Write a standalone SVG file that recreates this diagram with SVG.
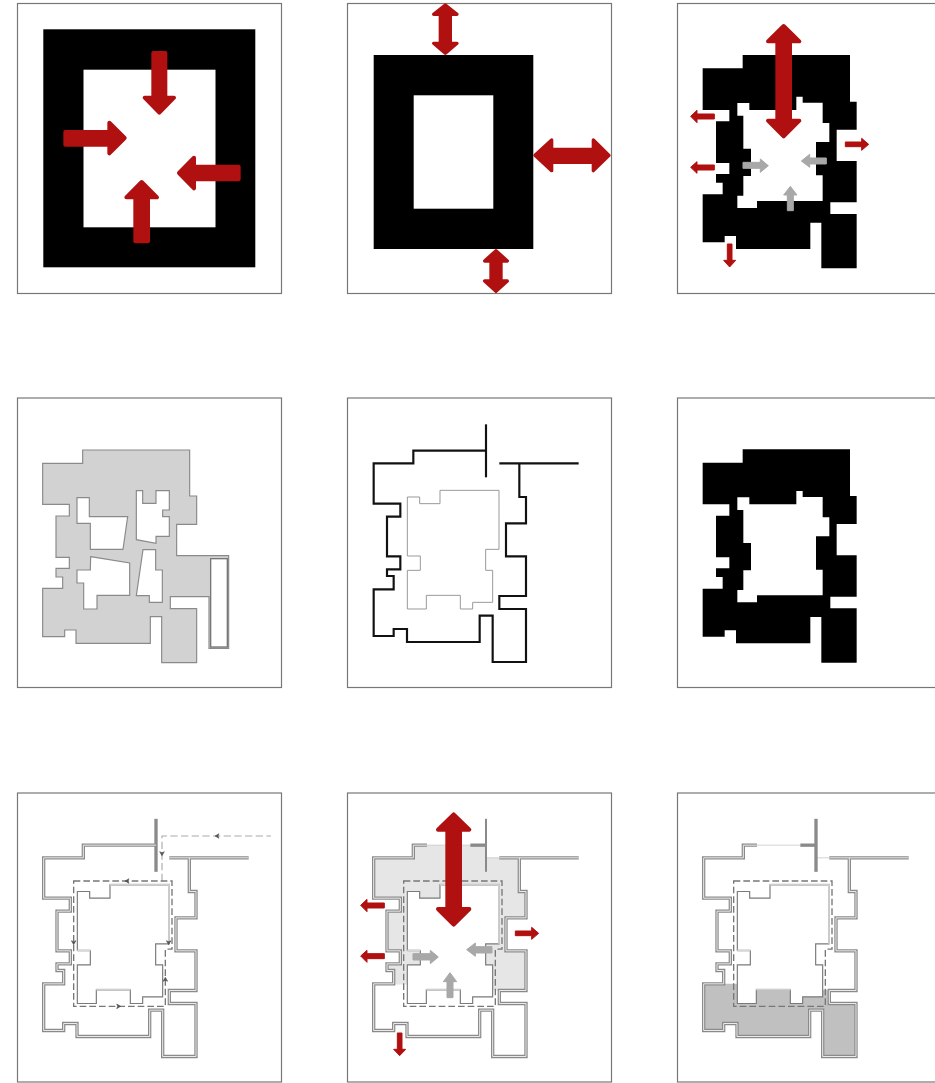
<svg xmlns="http://www.w3.org/2000/svg" width="935" height="1083" viewBox="0 0 935 1083">
<style>
.frame{fill:#fff;stroke:#777;stroke-width:1.2}
.red{fill:#b11010;stroke:#b11010;stroke-width:12;stroke-linejoin:round}
.red2{fill:#b11010;stroke:#b11010;stroke-width:10;stroke-linejoin:round}
.reds{fill:#b11010;stroke:#b11010;stroke-width:3;stroke-linejoin:round}
.gry{fill:#a8a8a8;stroke:#a8a8a8;stroke-width:3;stroke-linejoin:round}
.wo{fill:none;stroke:#8a8a8a;stroke-width:10;stroke-linejoin:miter}
.wi{fill:none;stroke:#ececec;stroke-width:3;stroke-linejoin:miter}
.in{fill:none;stroke:#7a7a7a;stroke-width:3.5}
.inl{fill:none;stroke:#bdbdbd;stroke-width:6}
.ini{fill:none;stroke:#f4f4f4;stroke-width:1.5}
.dash{fill:none;stroke:#777;stroke-width:4;stroke-dasharray:20 9}
.dash2{fill:none;stroke:#aaa;stroke-width:3.5;stroke-dasharray:22 10}
.thin{fill:none;stroke:#c8c8c8;stroke-width:2.5}
.chev{fill:#555;stroke:#444;stroke-width:1.5}
</style>
<defs>
<path id="mass" fill-rule="evenodd" d="M197,28H519V168H539V252H479V346H539V470H460V505H539V668H433V531H400V610H177V571H143V590H77V446H137V411H117V385H157V352H117V227H157V193H77V68H197ZM181,172H217V193H358V153H377V171H437V232H457V289H417V389H437V466H240V487H181V450H199V391H222V309H199V210H181Z"/>
<path id="outer" d="M417,122H199V160H80V281H160V320H120V439H160V478H120V498H140V538H80V678H140V657H180V696H398V617H437V756H537V597H457V558H537V439H477V340H537V261H517V160"/>
<path id="outerGap" d="M240,122H199V160H80V281H160V320H120V439H160V478H120V498H140V538H80V678H140V657H180V696H398V617H437V756H537V597H457V558H537V439H477V340H537V261H517V160"/>
<path id="stub" d="M417,43V202"/>
<path id="bar" d="M457,160H695"/>
<path id="inner" d="M181,261H218V281H279V241H456V418H416V481H437V577H377V597H340V556H238V597H181V481H220V438H181Z"/>
<path id="lightIn" d="M279,241H456V418M181,438H220M238,556H340"/>
<path id="dashLoop" d="M170,229.5H465V434H445V605.5H170Z"/>
<path id="c" d="M-6,-7L6,0L-6,7L-3,0Z"/>
</defs>

<g id="panel-1">
<rect class="frame" x="17.5" y="3.5" width="264" height="290"/>
<rect x="43.3" y="29.3" width="212" height="238"/>
<rect x="83.5" y="69.7" width="132" height="157.6" fill="#fff"/>
<g transform="translate(10,0) scale(.33333)">
<polygon class="red" points="430,159 466,159 466,293 492,293 448,338 404,293 430,293"/>
<polygon class="red" points="166,396 298,396 298,368 344,414 298,460 298,434 166,434"/>
<polygon class="red" points="686,500 552,500 552,473 507,519 552,565 552,538 686,538"/>
<polygon class="red" points="376,724 376,592 349,592 395,546 441,592 414,592 414,724"/>
</g>
</g>

<g id="panel-2">
<rect class="frame" x="347.5" y="3.5" width="264" height="290"/>
<rect x="373.7" y="55" width="159.6" height="194"/>
<rect x="413.7" y="95.3" width="79.6" height="113.4" fill="#fff"/>
<g transform="translate(340,0) scale(.33333)">
<polygon class="red2" points="316,15 351,43 331,43 331,130 351,130 316,160 281,130 301,130 301,43 281,43"/>
<polygon class="red2" points="468,752 502,783 483,783 483,843 502,843 468,874 434,843 453,843 453,783 434,783"/>
<polygon class="red2" points="585,466 635,420 635,448 760,448 760,420 807,466 760,512 760,487 635,487 635,512"/>
</g>
</g>

<g id="panel-3">
<rect class="frame" x="677.5" y="3.5" width="264" height="290"/>
<g transform="translate(677,45.67) scale(.33333)"><use href="#mass"/></g>
<g transform="translate(677,0) scale(.33333)">
<polygon class="red" points="320,78 367,124 339,124 339,362 367,362 320,409 273,362 301,362 301,124 273,124"/>
<polygon class="reds" points="112,342 60,342 60,331 41,349 60,368 60,357 112,357"/>
<polygon class="reds" points="112,495 60,495 60,485 41,502 60,520 60,510 112,510"/>
<polygon class="reds" points="505,426 554,426 554,415 575,433 554,451 554,440 505,440"/>
<polygon class="reds" points="151,732 165,732 165,781 176,781 158,801 140,781 151,781"/>
<polygon class="gry" points="198,487 250,487 250,477 274,497 250,517 250,505 198,505"/>
<polygon class="gry" points="448,474 398,474 398,463 373,483 398,502 398,492 448,492"/>
<polygon class="gry" points="331,632 331,585 320,585 340,559 360,585 349,585 349,632"/>
</g>
</g>

<g id="panel-4">
<rect class="frame" x="17.5" y="398" width="264" height="289.5"/>
<g transform="translate(17,430) scale(.33333)">
<path fill="#d2d2d2" stroke="#8a8a8a" stroke-width="3.5" fill-rule="evenodd" d="M197,60H518V198H539V283H479V377H635V655H576V500H460V536H539V698H434V560H400V640H177V600H143V620H77V475H137V441H117V415H157V382H117V258H157V223H77V100H197ZM180,203H217V260H332L318,358H220V280H180ZM358,182H377V220H417V182H457V240H437V260H457V319H417V340L358,329ZM221,380L338,399V496H240V537H200V459H180V420H220ZM378,359H416V420H436V517H397V497H358Z"/>
<rect x="581" y="386" width="50" height="265" fill="#fff" stroke="#777" stroke-width="4"/>
</g>
</g>

<g id="panel-5">
<rect class="frame" x="347.5" y="398" width="264" height="289.5"/>
<g transform="translate(347,410) scale(.33333)">
<use href="#inner" fill="none" stroke="#999" stroke-width="3"/>
<g fill="none" stroke="#111" stroke-width="6.5">
<use href="#outer"/><use href="#stub"/><use href="#bar"/>
</g>
</g>
</g>

<g id="panel-6">
<rect class="frame" x="677.5" y="398" width="264" height="289.5"/>
<g transform="translate(677,440) scale(.33333)"><use href="#mass"/></g>
</g>

<g id="panel-7">
<rect class="frame" x="17.5" y="793" width="264" height="289"/>
<g transform="translate(17,804.5) scale(.33333)">
<path class="dash2" d="M435,229.5V94.5H762"/>
<use href="#inner" class="in"/><use href="#lightIn" class="inl"/><use href="#lightIn" class="ini"/>
<use href="#outer" class="wo"/><use href="#stub" class="wo"/><use href="#bar" class="wo"/>
<use href="#outer" class="wi"/><use href="#bar" class="wi"/>
<use href="#dashLoop" class="dash"/>
<g id="flow-marks">
<use href="#c" class="chev" transform="translate(600,94.5) rotate(180)"/>
<use href="#c" class="chev" transform="translate(435,147.5) rotate(90)"/>
<use href="#c" class="chev" transform="translate(330,229.5) rotate(180)"/>
<use href="#c" class="chev" transform="translate(170,414.5) rotate(90)"/>
<use href="#c" class="chev" transform="translate(455,414.5) rotate(90)"/>
<use href="#c" class="chev" transform="translate(445,524.5) rotate(-90)"/>
<use href="#c" class="chev" transform="translate(305,605.5)"/>
</g>
</g>
</g>

<g id="panel-8">
<rect class="frame" x="347.5" y="793" width="264" height="289"/>
<g transform="translate(347,804.5) scale(.33333)">
<path fill="#e6e6e6" d="M199,122H417V160H517V261H537V340H477V439H537V558H437V481H416V418H456V241H279V281H218V261H181V438H220V481H181V540H140V498H120V478H160V439H120V320H160V281H80V160H199Z"/>
<use href="#inner" class="in"/><use href="#lightIn" class="inl"/><use href="#lightIn" class="ini"/>
<path class="thin" d="M240,122H370M417,160H457"/>
<use href="#outerGap" class="wo"/><path class="wo" d="M370,122H417"/><use href="#stub" class="wo" style="stroke-width:6"/><use href="#bar" class="wo"/>
<use href="#outerGap" class="wi"/><use href="#bar" class="wi"/>
<use href="#dashLoop" class="dash"/>
</g>
<g transform="translate(347,805) scale(.33333)">
<polygon class="red" points="320,28 367,74 339,74 339,312 367,312 320,359 273,312 301,312 301,74 273,74"/>
<polygon class="reds" points="112,294 60,294 60,283 41,301 60,320 60,309 112,309"/>
<polygon class="reds" points="112,446 60,446 60,436 41,453 60,472 60,461 112,461"/>
<polygon class="reds" points="505,378 554,378 554,367 575,385 554,403 554,392 505,392"/>
<polygon class="reds" points="151,684 165,684 165,733 176,733 158,752 140,733 151,733"/>
<polygon class="gry" points="198,446 250,446 250,436 274,456 250,476 250,465 198,465"/>
<polygon class="gry" points="435,425 385,425 385,414 359,434 385,454 385,444 435,444"/>
<polygon class="gry" points="300,578 300,530 289,530 309,503 329,530 318,530 318,578"/>
</g>
</g>

<g id="panel-9">
<rect class="frame" x="677.5" y="793" width="264" height="289"/>
<g transform="translate(677,804.5) scale(.33333)">
<path fill="#c0c0c0" d="M80,538H181V597H238V556H340V597H377V577H437V556H457V597H537V756H437V617H398V696H180V657H140V678H80Z"/>
<use href="#inner" class="in"/><use href="#lightIn" class="inl"/><use href="#lightIn" class="ini"/>
<path class="thin" d="M240,122H370M417,160H457"/>
<use href="#outerGap" class="wo"/><path class="wo" d="M370,122H417"/><use href="#stub" class="wo"/><use href="#bar" class="wo"/>
<use href="#outerGap" class="wi"/><use href="#bar" class="wi"/>
<use href="#dashLoop" class="dash"/>
</g>
</g>
</svg>
